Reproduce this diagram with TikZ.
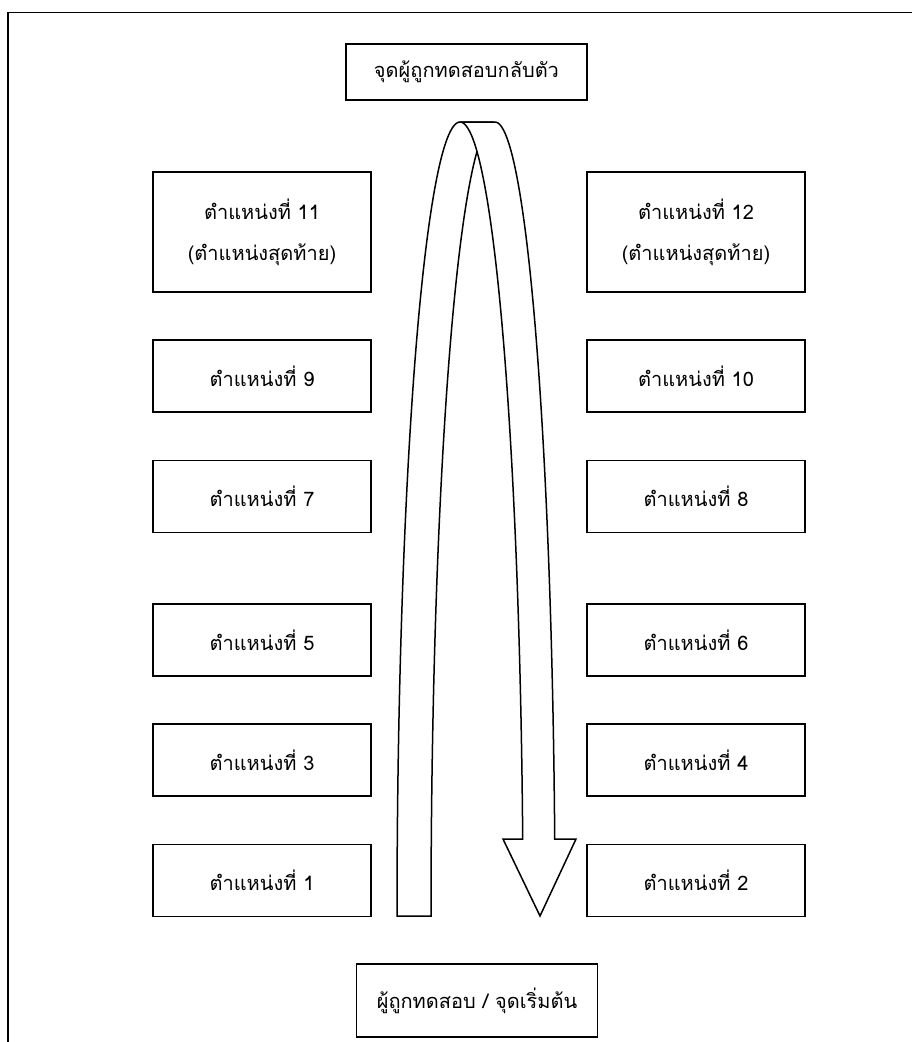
\documentclass[tikz,border=0pt]{standalone}
\usepackage{fontspec}
\newfontfamily\thaifont[Script=Thai]{Loma}
\begin{document}
\begin{tikzpicture}[x=1pt,y=-1pt,
  box/.style={draw, line width=1.3pt, minimum width=218pt, minimum height=72pt, inner sep=0pt,
    font=\thaifont\fontsize{20}{41}\selectfont, align=center},
  arr/.style={draw, line width=1.5pt, fill=white, line join=miter},
  frame/.style={line width=1.8pt}]
\useasboundingbox (0,0) rectangle (912,1042);
% frame
\coordinate (fr) at (912,12.5);
\coordinate (fc) at (8,12.5);
\coordinate (fb) at (8,1042);
\draw[frame] (fr) -- (fc) -- (fb);
% top and bottom boxes
\node[box, minimum width=241pt, minimum height=56pt] (turn) at (466.5,72) {จุดผู้ถูกทดสอบกลับตัว};
\node[box, minimum width=241pt, minimum height=73pt] (start) at (477,1000.5) {ผู้ถูกทดสอบ / จุดเริ่มต้น};
% left boxes
\node[box, minimum height=120pt] (p11) at (262,232) {ตำแหน่งที่ 11\\(ตำแหน่งสุดท้าย)};
\node[box] (p9) at (262,376) {ตำแหน่งที่ 9};
\node[box] (p7) at (262,496.5) {ตำแหน่งที่ 7};
\node[box] (p5) at (262,640) {ตำแหน่งที่ 5};
\node[box] (p3) at (262,760) {ตำแหน่งที่ 3};
\node[box] (p1) at (262,880.5) {ตำแหน่งที่ 1};
% right boxes
\node[box, minimum height=120pt] (p12) at (696,232) {ตำแหน่งที่ 12\\(ตำแหน่งสุดท้าย)};
\node[box] (p10) at (696,376) {ตำแหน่งที่ 10};
\node[box] (p8) at (696,496.5) {ตำแหน่งที่ 8};
\node[box] (p6) at (696,640) {ตำแหน่งที่ 6};
\node[box] (p4) at (696,760) {ตำแหน่งที่ 4};
\node[box] (p2) at (696,880.5) {ตำแหน่งที่ 2};
% U-turn arrow: back strip
\path[arr] plot[domain=0:90,samples=80] ({460-63*cos(\x)},{916-794*sin(\x)})
  -- plot[domain=90:0,samples=80] ({494-63*cos(\x)},{916-794*sin(\x)}) -- cycle;
% front face with head
\path[arr] (460,122) -- plot[domain=90:5.565,samples=80] ({495+60*cos(\x)},{916-794*sin(\x)})
  -- (576,839) -- (540,916) -- (503,839)
  -- plot[domain=5.565:90,samples=80] ({460+63*cos(\x)},{916-794*sin(\x)}) -- cycle;
\end{tikzpicture}
\end{document}
